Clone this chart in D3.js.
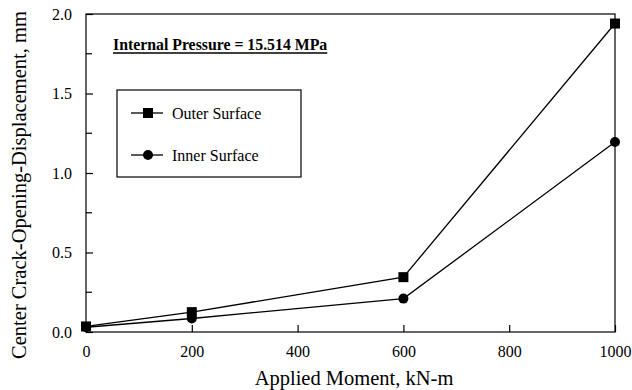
<!DOCTYPE html>
<html>
<head>
<meta charset="utf-8">
<script src="https://cdn.jsdelivr.net/npm/d3@7"></script>
<style>
  body { margin: 0; background: #fff; }
  text { font-family: "Times New Roman", "Liberation Serif", Times, serif; fill: #000; }
</style>
</head>
<body>
<svg id="chart" width="632" height="390"></svg>
<script>
// values
var moments = [0, 200, 600, 1000];
var outerSurface = [0.035, 0.125, 0.345, 1.94];
var innerSurface = [0.03, 0.085, 0.21, 1.195];
var xTicks = [0, 200, 400, 600, 800, 1000];
var yTicks = [0, 0.5, 1.0, 1.5, 2.0];
var yMinor = [0.25, 0.75, 1.25, 1.75];

var serif = '"Times New Roman", "Liberation Serif", Times, serif';

var margin = {left: 86, top: 14, right: 17, bottom: 58};
var width = 632 - margin.left - margin.right;
var height = 390 - margin.top - margin.bottom;

var svg = d3.select('#chart');
var g = svg.append('g')
  .attr('transform', 'translate(' + margin.left + ',' + margin.top + ')');

var x = d3.scaleLinear().domain([0, 1000]).range([0, width]);
var y = d3.scaleLinear().domain([0, 2]).range([height, 0]);

// frame
g.append('rect')
  .attr('width', width)
  .attr('height', height)
  .attr('fill', 'none')
  .attr('stroke', '#000')
  .attr('stroke-width', 1.2);

// bottom axis, ticks pointing in
var xAxis = g.append('g')
  .attr('transform', 'translate(0,' + height + ')')
  .call(d3.axisBottom(x).tickValues(xTicks).tickSize(-7).tickPadding(14)
    .tickFormat(d3.format('d')));
xAxis.select('.domain').remove();
xAxis.selectAll('text').attr('font-size', 16).style('font-family', serif);
xAxis.selectAll('line').attr('stroke-width', 1.2);

// left axis
var yAxis = g.append('g')
  .call(d3.axisLeft(y).tickValues(yTicks).tickSize(-7).tickPadding(14)
    .tickFormat(d3.format('.1f')));
yAxis.select('.domain').remove();
yAxis.selectAll('text').attr('font-size', 16).style('font-family', serif);
yAxis.selectAll('line').attr('stroke-width', 1.2);

g.selectAll('.yminor').data(yMinor).enter()
  .append('line')
  .attr('class', 'yminor')
  .attr('x1', 0).attr('x2', 6)
  .attr('y1', function(d) { return y(d); })
  .attr('y2', function(d) { return y(d); })
  .attr('stroke', '#000').attr('stroke-width', 1.2);

// lines
var line = d3.line()
  .x(function(d, i) { return x(moments[i]); })
  .y(function(d) { return y(d); });

[outerSurface, innerSurface].forEach(function(series) {
  g.append('path')
    .datum(series)
    .attr('d', line)
    .attr('fill', 'none')
    .attr('stroke', '#000')
    .attr('stroke-width', 1.3);
});

// markers
g.selectAll('.sq').data(outerSurface).enter()
  .append('rect')
  .attr('x', function(d, i) { return x(moments[i]) - 5; })
  .attr('y', function(d) { return y(d) - 5; })
  .attr('width', 10).attr('height', 10)
  .attr('fill', '#000');

g.selectAll('.dot').data(innerSurface).enter()
  .append('circle')
  .attr('cx', function(d, i) { return x(moments[i]); })
  .attr('cy', function(d) { return y(d); })
  .attr('r', 5)
  .attr('fill', '#000');

// annotation
var note = g.append('text')
  .attr('x', 27).attr('y', 36)
  .attr('font-size', 15.8)
  .attr('font-weight', 'bold')
  .text('Internal Pressure = 15.514 MPa');
var nb = note.node().getBBox();
g.append('line')
  .attr('x1', nb.x).attr('x2', nb.x + nb.width)
  .attr('y1', 39).attr('y2', 39)
  .attr('stroke', '#000').attr('stroke-width', 1.3);

// legend
var legend = g.append('g').attr('transform', 'translate(31,76)');
legend.append('rect')
  .attr('width', 184).attr('height', 87)
  .attr('fill', '#fff').attr('stroke', '#000').attr('stroke-width', 1.2);

var entries = [
  {label: 'Outer Surface', shape: 'square', dy: 23},
  {label: 'Inner Surface', shape: 'circle', dy: 65}
];
entries.forEach(function(e) {
  var row = legend.append('g').attr('transform', 'translate(0,' + e.dy + ')');
  row.append('line')
    .attr('x1', 14).attr('x2', 46)
    .attr('stroke', '#000').attr('stroke-width', 1.3);
  if (e.shape === 'square') {
    row.append('rect').attr('x', 31 - 5).attr('y', -5).attr('width', 10).attr('height', 10).attr('fill', '#000');
  } else {
    row.append('circle').attr('cx', 31).attr('r', 5).attr('fill', '#000');
  }
  row.append('text')
    .attr('x', 55).attr('y', 5.5)
    .attr('font-size', 16)
    .text(e.label);
});

// axis titles
svg.append('text')
  .attr('x', 354)
  .attr('y', 385)
  .attr('text-anchor', 'middle')
  .attr('font-size', 20.5)
  .text('Applied Moment, kN-m');

svg.append('text')
  .attr('transform', 'translate(26,185) rotate(-90)')
  .attr('text-anchor', 'middle')
  .attr('font-size', 20.5)
  .text('Center Crack-Opening-Displacement, mm');
</script>
</body>
</html>
